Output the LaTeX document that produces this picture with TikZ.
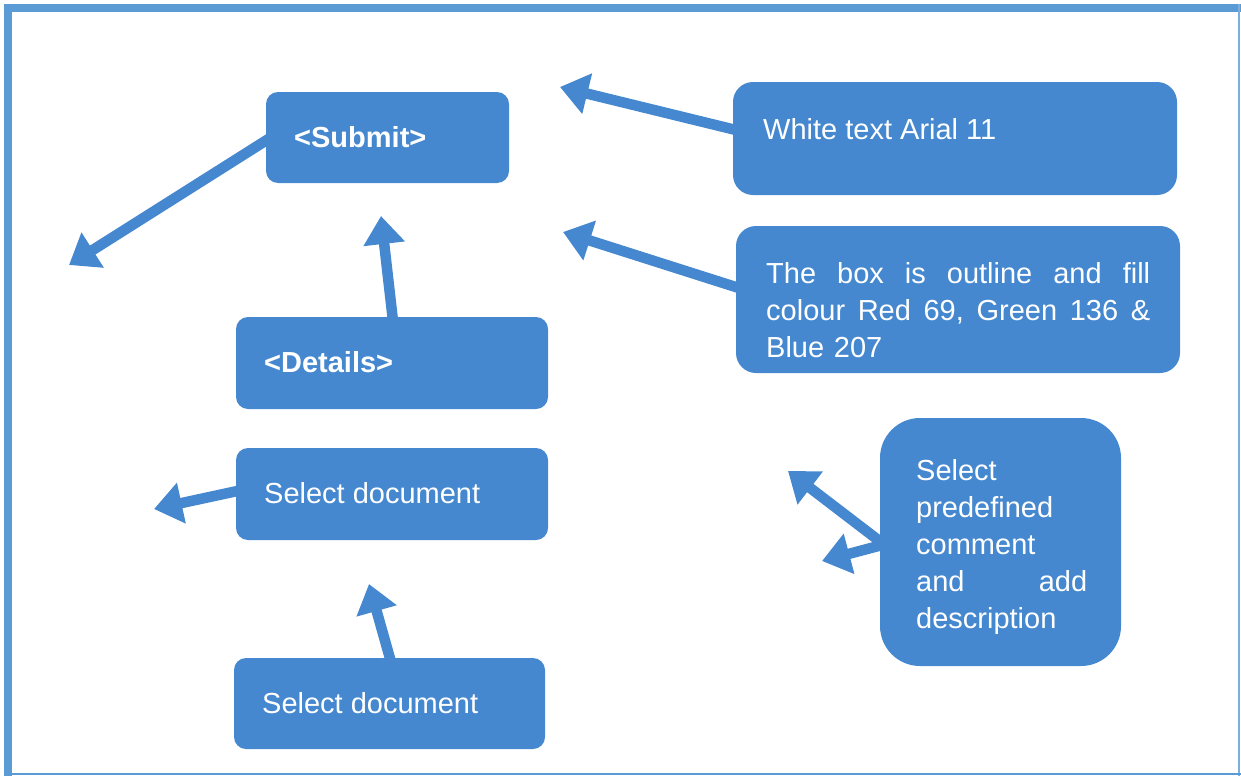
\documentclass[tikz,border=0pt]{standalone}
\usepackage{fontspec}
\setmainfont{Liberation Sans}
\usetikzlibrary{arrows.meta}
\definecolor{boxblue}{RGB}{69,136,207}
\definecolor{framblue}{RGB}{91,155,213}
% a line of fixed width with its words pushed apart
\newcommand{\fullline}[2]{\leavevmode\hbox to #1{#2}}
\begin{document}
\begin{tikzpicture}[x=1pt,y=-1pt,
  lbl/.style={text=white,inner sep=0pt,font=\fontsize{29}{37}\selectfont},
  pointer/.style={draw=boxblue,line width=10.5pt,
    -{Triangle[length=28pt,width=40pt]}}]
\useasboundingbox (0,0) rectangle (1241,776);
% page frame: heavy left and top bands, thin right and bottom rules
\fill[framblue] (4,4) rectangle (1241,12);
\fill[framblue] (4,4) rectangle (12,776);
\fill[framblue!80] (1238,4) rectangle (1240,776);
\fill[framblue] (4,773) rectangle (1241,775);

% box corners
\coordinate (submitNW) at (266,92);   \coordinate (submitSE) at (509,183);
\coordinate (whiteNW) at (733,82);    \coordinate (whiteSE) at (1177,195);
\coordinate (colourNW) at (736,226);  \coordinate (colourSE) at (1180,373);
\coordinate (detailsNW) at (236,317); \coordinate (detailsSE) at (548,409);
\coordinate (selANW) at (236,448);    \coordinate (selASE) at (548,540);
\coordinate (commentNW) at (880,418); \coordinate (commentSE) at (1121,666);
\coordinate (selBNW) at (234,658);    \coordinate (selBSE) at (545,749);

% free ends of the connectors
\coordinate (tipSubmit) at (69,265);
\coordinate (tipDetails) at (381,216);
\coordinate (tipWhite) at (560,87);
\coordinate (tipColour) at (563,232);
\coordinate (tipSelA) at (154,509);
\coordinate (tipSelB) at (369,584);
\coordinate (tipCommentA) at (788,471);
\coordinate (tipCommentB) at (822,561);
% start points on the box edges
\coordinate (fromSubmit) at (270,138);
\coordinate (fromDetails) at (393,321);
\coordinate (fromWhite) at (740,131);
\coordinate (fromColour) at (742,289);
\coordinate (fromSelA) at (242,490);
\coordinate (fromSelB) at (391,662);
\coordinate (fromCommentA) at (886,546);
\coordinate (fromCommentB) at (886,544);

\draw[pointer] (fromSubmit) -- (tipSubmit);
\draw[pointer] (fromDetails) -- (tipDetails);
\draw[pointer] (fromWhite) -- (tipWhite);
\draw[pointer] (fromColour) -- (tipColour);
\draw[pointer] (fromSelA) -- (tipSelA);
\draw[pointer] (fromSelB) -- (tipSelB);
\draw[pointer] (fromCommentA) -- (tipCommentA);
\draw[pointer] (fromCommentB) -- (tipCommentB);

% boxes
\fill[boxblue,rounded corners=12pt] (submitNW) rectangle (submitSE);
\fill[boxblue,rounded corners=20pt] (whiteNW) rectangle (whiteSE);
\fill[boxblue,rounded corners=20pt] (colourNW) rectangle (colourSE);
\fill[boxblue,rounded corners=12pt] (detailsNW) rectangle (detailsSE);
\fill[boxblue,rounded corners=12pt] (selANW) rectangle (selASE);
\fill[boxblue,rounded corners=40pt] (commentNW) rectangle (commentSE);
\fill[boxblue,rounded corners=12pt] (selBNW) rectangle (selBSE);

% labels
\node[lbl,anchor=base west] (submit) at (294,147) {\textbf{<Submit>}};
\node[lbl,anchor=base west] (white) at (763,139) {White text Arial 11};
\node[lbl,anchor=base west,text width=384pt,align=left] (colour) at (766,283)
  {\fullline{384pt}{The\hfill box\hfill is\hfill outline\hfill and\hfill fill}\\
   \fullline{384pt}{colour\hfill Red\hfill 69,\hfill Green\hfill 136\hfill \&}\\
   Blue 207};
\node[lbl,anchor=base west] (details) at (264,372) {\textbf{<Details>}};
\node[lbl,anchor=base west] (selA) at (264,503) {Select document};
\node[lbl,anchor=base west,text width=171pt,align=left] (comment) at (916,480)
  {Select\\predefined\\comment\\\fullline{171pt}{and\hfill add}\\description};
\node[lbl,anchor=base west] (selB) at (262,713) {Select document};
\end{tikzpicture}
\end{document}
